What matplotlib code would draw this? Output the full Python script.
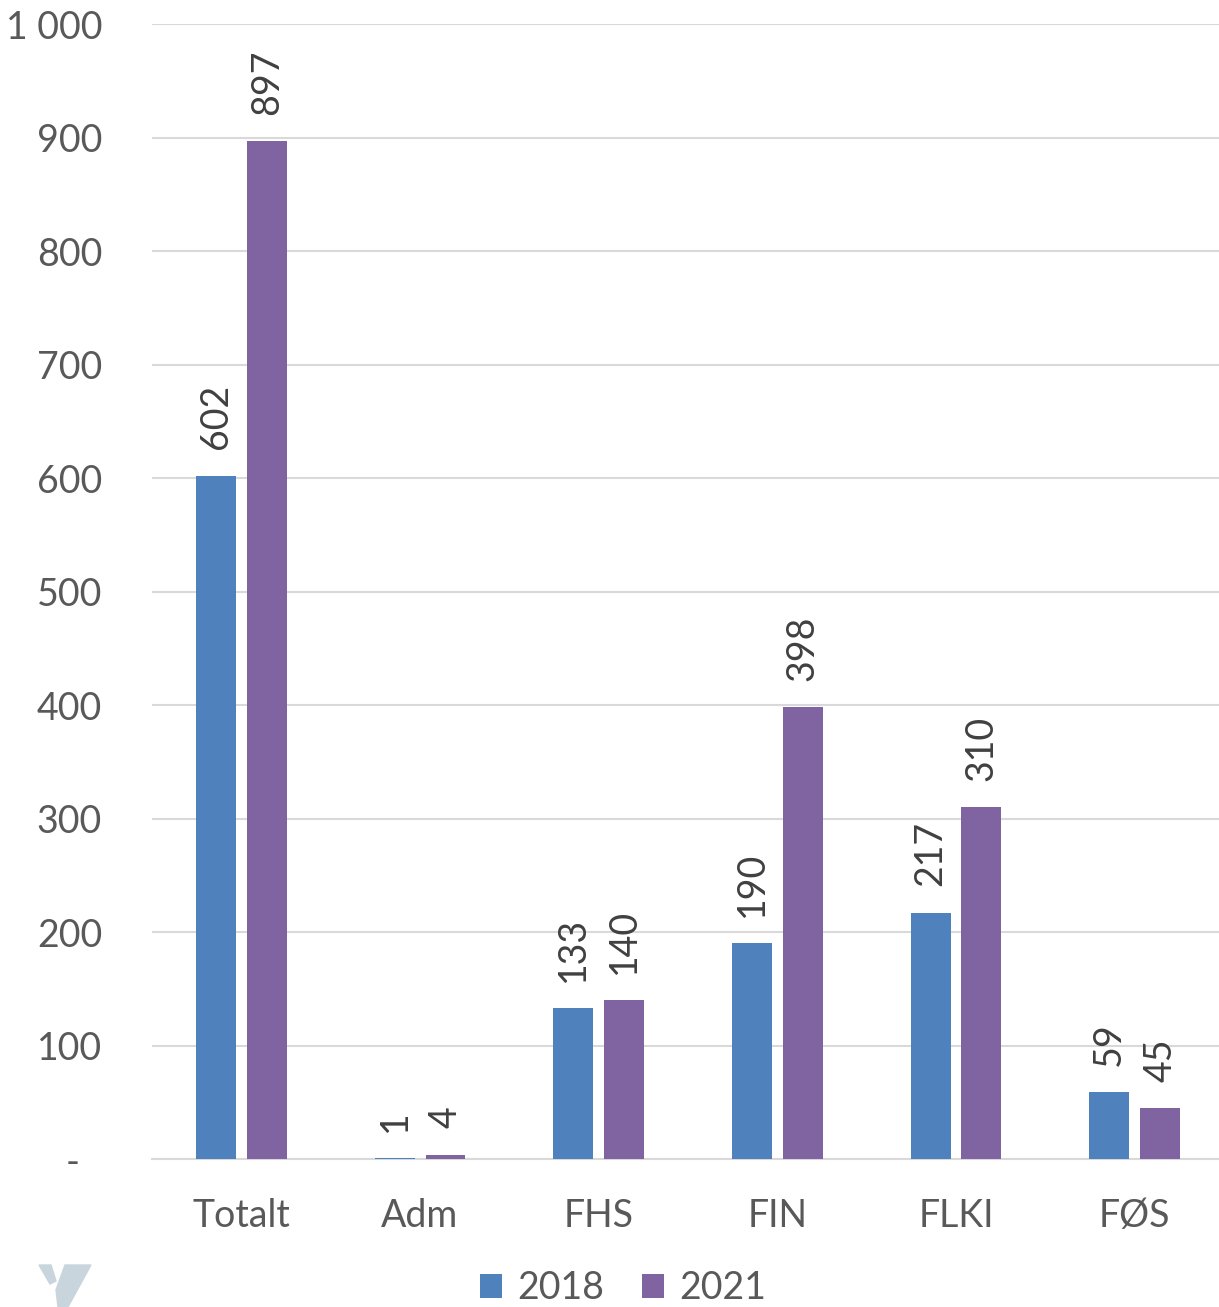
import matplotlib.pyplot as plt
import matplotlib.ticker as ticker
from matplotlib.patches import Polygon
import numpy as np

plt.rcParams['font.family'] = ['Lato', 'DejaVu Sans']

categories = ["Totalt", "Adm", "FHS", "FIN", "FLKI", "FØS"]
values_2018 = [602, 1, 133, 190, 217, 59]
values_2021 = [897, 4, 140, 398, 310, 45]
series_labels = ["2018", "2021"]

color_2018 = "#4f81bd"
color_2021 = "#8064a2"
text_color = "#595959"
label_color = "#404040"

fig = plt.figure(figsize=(12.19, 13.07), dpi=100)
ax = fig.add_axes([0.1247, 0.1132, 0.8794, 0.8684])

x = np.arange(len(categories))
width = 0.2235
offset = 0.1425
b1 = ax.bar(x - offset, values_2018, width, color=color_2018, label=series_labels[0], zorder=3)
b2 = ax.bar(x + offset, values_2021, width, color=color_2021, label=series_labels[1], zorder=3)

for bars in (b1, b2):
    for rect in bars:
        h = rect.get_height()
        ax.annotate(f"{h:g}", (rect.get_x() + rect.get_width() / 2, h),
                    xytext=(0, 19), textcoords="offset points",
                    rotation=90, ha="center", va="bottom",
                    fontsize=27, color=label_color)

ax.set_xlim(-0.5, len(categories) - 0.5)
ax.set_ylim(0, 1000)
ax.set_yticks(range(0, 1001, 100))


def fmt(v, pos):
    if v == 0:
        return "-\u2007"
    return f"{int(v):,}".replace(",", " ")


ax.yaxis.set_major_formatter(ticker.FuncFormatter(fmt))
ax.set_xticks(x)
ax.set_xticklabels(categories)
ax.tick_params(axis="both", length=0, labelsize=27, colors=text_color)
ax.tick_params(axis="x", pad=28)
ax.tick_params(axis="y", pad=36)
for lab in ax.get_yticklabels():
    lab.set_horizontalalignment("right")

ax.grid(axis="y", color="#d9d9d9", linewidth=1.5, zorder=0)
for s in ["top", "right", "left"]:
    ax.spines[s].set_visible(False)
ax.spines["bottom"].set_color("#d9d9d9")
ax.spines["bottom"].set_linewidth(1.5)

leg = fig.legend(loc="center", bbox_to_anchor=(0.511, 0.0145), ncol=2, frameon=False,
                 fontsize=27, handlelength=0.6, handleheight=0.6, handletextpad=0.4,
                 columnspacing=1.0, labelcolor=text_color)

# logo mark bottom-left
W, H = 1219, 1307
def fc(px, py):
    return (px / W, 1 - py / H)

logo_color = "#c9d5dc"
left_piece = [fc(39, 1265), fc(51, 1265), fc(56, 1281), fc(50, 1284)]
right_piece = [fc(65, 1265), fc(91, 1265), fc(68, 1307), fc(58, 1307), fc(56, 1290)]
fig.patches.append(Polygon(left_piece, closed=True, transform=fig.transFigure, color=logo_color))
fig.patches.append(Polygon(right_piece, closed=True, transform=fig.transFigure, color=logo_color))

fig.savefig("out.png", dpi=100)
